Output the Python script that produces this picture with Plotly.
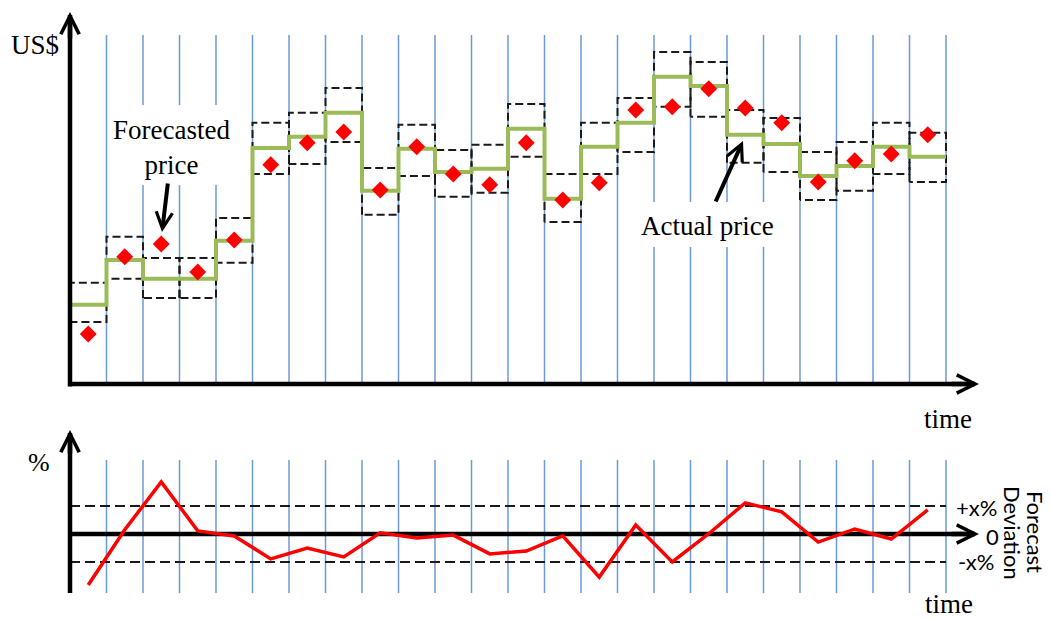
import plotly.graph_objects as go

W, H = 1051, 619
OFF = 8                      # page body margin of the written html
FW, FH = W - OFF, H - OFF    # figure size so that it fills the window exactly

# ---------------- data ----------------
periods = list(range(24))
actual_price = [19.8, 31.0, 26.3, 26.3, 35.8, 59.0, 61.8, 67.8, 48.3, 58.8, 53.0, 53.8,
                63.8, 46.3, 59.3, 65.3, 76.8, 74.5, 62.3, 60.0, 52.0, 54.5, 59.3, 56.8]
forecast_price = [12.5, 31.8, 35.0, 28.0, 36.0, 54.8, 60.3, 63.0, 48.5, 59.3, 52.5, 49.8,
                  60.3, 46.0, 50.3, 68.5, 69.3, 73.8, 69.0, 65.3, 50.5, 55.8, 57.5, 62.3]
band_upper = [25.3, 36.8, 31.5, 31.5, 41.5, 65.3, 67.8, 74.0, 54.0, 64.8, 58.5, 59.8,
              70.0, 52.5, 65.3, 71.5, 83.0, 80.5, 68.5, 66.5, 58.0, 60.5, 65.3, 62.8]
band_lower = [15.5, 26.3, 21.5, 21.5, 30.3, 52.5, 55.0, 60.5, 42.3, 52.0, 46.8, 47.8,
              56.8, 40.5, 52.5, 58.0, 69.3, 66.8, 55.3, 53.0, 46.0, 48.3, 52.5, 50.5]
deviation_pct = [-18.2, 1.5, 18.6, 1.1, -0.7, -8.9, -5.0, -8.2, 0.4, -1.4, -0.4, -7.1,
                 -6.1, -0.7, -15.4, 3.2, -10.0, 0.1, 11.1, 7.9, -2.9, 1.8, -1.8, 8.6]
threshold_pct = 10
right_labels = ["+x%", "0", "-x%"]
side_title = ["Forecast", "Deviation"]

# ---------------- layout geometry (reference pixel coordinates) ----------------
X0, STEP = 70.0, 36.5            # pixel of t=0, pixels per period
TOP_AXIS_PY, TOP_SCALE = 384.0, 4.0
BOT_ZERO_PY, BOT_SCALE = 534.0, 2.8

def tx(px):
    return (px - X0) / STEP

def price(py):
    return (TOP_AXIS_PY - py) / TOP_SCALE

def dev(py):
    return (BOT_ZERO_PY - py) / BOT_SCALE

def pxf(px):
    return (px - OFF) / FW

def pyf(py):
    return 1 - (py - OFF) / FH

n = len(periods)
BLUE = "#6A9BD8"
GREEN = "#9BBB59"
RED = "#FF0000"
SERIF = "Liberation Serif"
SANS = "Lato"

fig = go.Figure()

# ---- top panel: vertical period lines (with gaps behind the labels) ----
gap_forecast = (price(185), price(105))
gap_actual = (price(247), price(202))
gaps = {2: gap_forecast, 3: gap_forecast, 4: gap_forecast,
        16: gap_actual, 17: gap_actual, 18: gap_actual, 19: gap_actual}
gx, gy = [], []
ytop, ybot = price(35), 0
for k in range(1, n + 1):
    if k in gaps:
        lo, hi = gaps[k]
        gx += [k, k, None, k, k, None]
        gy += [ybot, lo, None, hi, ytop, None]
    else:
        gx += [k, k, None]
        gy += [ybot, ytop, None]
fig.add_trace(go.Scatter(x=gx, y=gy, mode="lines", line=dict(color=BLUE, width=1.5),
                         hoverinfo="skip", showlegend=False, xaxis="x", yaxis="y"))

# ---- forecast band boxes ----
bx, by = [], []
for i in periods:
    bx += [i, i, i + 1, i + 1, i, None]
    by += [band_lower[i], band_upper[i], band_upper[i], band_lower[i], band_lower[i], None]
fig.add_trace(go.Scatter(x=bx, y=by, mode="lines",
                         line=dict(color="#1a1a1a", width=2, dash="8px,4px"),
                         hoverinfo="skip", showlegend=False, xaxis="x", yaxis="y"))

# ---- actual price step line ----
fig.add_trace(go.Scatter(x=periods + [n], y=actual_price + [actual_price[-1]], mode="lines",
                         line=dict(color=GREEN, width=4, shape="hv"),
                         showlegend=False, xaxis="x", yaxis="y"))

# ---- forecasted price diamonds ----
fig.add_trace(go.Scatter(x=[i + 0.5 for i in periods], y=forecast_price, mode="markers",
                         marker=dict(symbol="diamond", size=13, color=RED, line=dict(width=0)),
                         showlegend=False, xaxis="x", yaxis="y"))

# ---- top axes ----
fig.add_trace(go.Scatter(x=[0, 0, None, 0, tx(975)], y=[-0.6, price(15), None, 0, 0], mode="lines",
                         line=dict(color="black", width=4.5), hoverinfo="skip",
                         showlegend=False, xaxis="x", yaxis="y"))

# ---- bottom panel ----
bgx, bgy = [], []
for k in range(1, n + 1):
    bgx += [k, k, None]
    bgy += [dev(593), dev(460), None]
fig.add_trace(go.Scatter(x=bgx, y=bgy, mode="lines", line=dict(color=BLUE, width=1.5),
                         hoverinfo="skip", showlegend=False, xaxis="x2", yaxis="y2"))
fig.add_trace(go.Scatter(x=[0, n, None, 0, n], y=[threshold_pct, threshold_pct, None, -threshold_pct, -threshold_pct],
                         mode="lines", line=dict(color="#1a1a1a", width=2, dash="10px,5px"),
                         hoverinfo="skip", showlegend=False, xaxis="x2", yaxis="y2"))
fig.add_trace(go.Scatter(x=[0, tx(975), None, 0, 0], y=[0, 0, None, dev(593), dev(433)], mode="lines",
                         line=dict(color="black", width=4.5), hoverinfo="skip",
                         showlegend=False, xaxis="x2", yaxis="y2"))
fig.add_trace(go.Scatter(x=[i + 0.5 for i in periods], y=deviation_pct, mode="lines",
                         line=dict(color=RED, width=3.5),
                         showlegend=False, xaxis="x2", yaxis="y2"))

# ---------------- annotations ----------------
ann = []

def arrow(xt, yt, xa, ya, xr, yr, w=4.5, size=0.8):
    return dict(x=xt, y=yt, ax=xa, ay=ya, xref=xr, yref=yr, axref=xr, ayref=yr,
                text="", showarrow=True, arrowhead=5, arrowsize=size, arrowwidth=w,
                arrowcolor="black", standoff=0, startstandoff=0)

# axis arrow heads
ann.append(arrow(0, price(12), 0, price(40), "x", "y"))
ann.append(arrow(tx(979), 0, tx(950), 0, "x", "y"))
ann.append(arrow(0, dev(430), 0, dev(455), "x2", "y2"))
ann.append(arrow(tx(979), 0, tx(950), 0, "x2", "y2"))
# label pointers
ann.append(arrow(tx(162), price(232), tx(168), price(182), "x", "y", w=4, size=0.8))
ann.append(arrow(tx(743), price(141), tx(715), price(203), "x", "y", w=4, size=0.8))

def label(text, px, py, family, size, angle=0):
    return dict(text=text, x=pxf(px), y=pyf(py), xref="paper", yref="paper",
                xanchor="center", yanchor="middle", showarrow=False, textangle=angle,
                font=dict(family=family, size=size, color="black"))

ann.append(label("US$", 35, 45, SERIF, 27))
ann.append(label("time", 948, 419, SERIF, 27))
ann.append(label("%", 39, 462, SERIF, 26))
ann.append(label("time", 949, 604, SERIF, 27))
ann.append(label("Forecasted<br>price", 171, 147, SERIF, 27))
ann.append(label("Actual price", 707, 226, SERIF, 27))
ann.append(label(right_labels[0], 976, 507, SANS, 22))
ann.append(label(right_labels[1], 992, 536, SANS, 22))
ann.append(label(right_labels[2], 976, 561, SANS, 22))
ann.append(label(side_title[0], 1036, 532, SANS, 22, angle=90))
ann.append(label(side_title[1], 1013, 533, SANS, 22, angle=90))

xr = [tx(OFF), tx(W)]
hidden = dict(showgrid=False, zeroline=False, showticklabels=False, showline=False,
              ticks="", fixedrange=True)
fig.update_layout(
    width=FW, height=FH, autosize=False,
    margin=dict(l=0, r=0, t=0, b=0, pad=0),
    paper_bgcolor="white", plot_bgcolor="white",
    showlegend=False,
    xaxis=dict(domain=[0, 1], range=xr, anchor="y", **hidden),
    yaxis=dict(domain=[1 - (400 - OFF) / FH, 1], range=[price(400), price(OFF)], anchor="x", **hidden),
    xaxis2=dict(domain=[0, 1], range=xr, anchor="y2", **hidden),
    yaxis2=dict(domain=[0, 1 - (410 - OFF) / FH], range=[dev(H), dev(410)], anchor="x2", **hidden),
    annotations=ann,
)

fig.write_html("out.html", config={"displayModeBar": False})
